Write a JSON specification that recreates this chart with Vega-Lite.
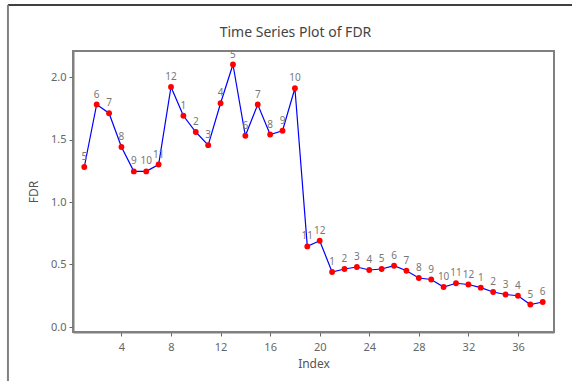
{
  "$schema": "https://vega.github.io/schema/vega-lite/v6.json",
  "width": 481,
  "height": 281,
  "autosize": {"type": "none"},
  "padding": {"left": 73, "top": 51, "right": 18, "bottom": 49},
  "background": "white",
  "title": {
    "text": "Time Series Plot of FDR",
    "fontSize": 14,
    "font": "Noto Sans",
    "fontWeight": "normal",
    "color": "#444444",
    "anchor": "middle",
    "offset": -35.75,
    "dx": -18
  },
  "config": {
    "view": {"stroke": "#808080", "strokeWidth": 2},
    "font": "Noto Sans",
    "axis": {
      "labelColor": "#666666",
      "titleColor": "#555555",
      "labelFontSize": 11,
      "titleFontSize": 12,
      "titleFontWeight": "normal",
      "domainColor": "#808080",
      "domainWidth": 2,
      "tickColor": "#666666",
      "tickSize": 4,
      "grid": false
    }
  },
  "layer": [
    {
      "data": {
        "values": [
          {"i": 1, "fdr": 1.28, "m": 5},
          {"i": 2, "fdr": 1.78, "m": 6},
          {"i": 3, "fdr": 1.71, "m": 7},
          {"i": 4, "fdr": 1.44, "m": 8},
          {"i": 5, "fdr": 1.245, "m": 9},
          {"i": 6, "fdr": 1.245, "m": 10},
          {"i": 7, "fdr": 1.30, "m": 11},
          {"i": 8, "fdr": 1.92, "m": 12},
          {"i": 9, "fdr": 1.69, "m": 1},
          {"i": 10, "fdr": 1.56, "m": 2},
          {"i": 11, "fdr": 1.455, "m": 3},
          {"i": 12, "fdr": 1.79, "m": 4},
          {"i": 13, "fdr": 2.10, "m": 5},
          {"i": 14, "fdr": 1.53, "m": 6},
          {"i": 15, "fdr": 1.78, "m": 7},
          {"i": 16, "fdr": 1.54, "m": 8},
          {"i": 17, "fdr": 1.57, "m": 9},
          {"i": 18, "fdr": 1.91, "m": 10},
          {"i": 19, "fdr": 0.645, "m": 11},
          {"i": 20, "fdr": 0.69, "m": 12},
          {"i": 21, "fdr": 0.44, "m": 1},
          {"i": 22, "fdr": 0.464, "m": 2},
          {"i": 23, "fdr": 0.48, "m": 3},
          {"i": 24, "fdr": 0.456, "m": 4},
          {"i": 25, "fdr": 0.464, "m": 5},
          {"i": 26, "fdr": 0.49, "m": 6},
          {"i": 27, "fdr": 0.45, "m": 7},
          {"i": 28, "fdr": 0.392, "m": 8},
          {"i": 29, "fdr": 0.38, "m": 9},
          {"i": 30, "fdr": 0.32, "m": 10},
          {"i": 31, "fdr": 0.35, "m": 11},
          {"i": 32, "fdr": 0.34, "m": 12},
          {"i": 33, "fdr": 0.315, "m": 1},
          {"i": 34, "fdr": 0.28, "m": 2},
          {"i": 35, "fdr": 0.26, "m": 3},
          {"i": 36, "fdr": 0.25, "m": 4},
          {"i": 37, "fdr": 0.18, "m": 5},
          {"i": 38, "fdr": 0.20, "m": 6}
        ]
      },
      "encoding": {
        "x": {
          "field": "i",
          "type": "quantitative",
          "scale": {"domain": [0.09, 38.91], "nice": false, "zero": false},
          "axis": {
            "title": "Index",
            "values": [4, 8, 12, 16, 20, 24, 28, 32, 36],
            "labelPadding": 5,
            "titlePadding": 6
          }
        },
        "y": {
          "field": "fdr",
          "type": "quantitative",
          "scale": {"domain": [-0.04, 2.208], "nice": false, "zero": false},
          "axis": {
            "title": "FDR",
            "values": [0, 0.5, 1, 1.5, 2],
            "format": ".1f",
            "labelPadding": 3,
            "titlePadding": 10
          }
        }
      },
      "layer": [
        {
          "mark": {"type": "line", "color": "#0000FF", "strokeWidth": 1.2}
        },
        {
          "mark": {"type": "point", "filled": true, "color": "#FF0000", "size": 34, "opacity": 1}
        },
        {
          "mark": {"type": "text", "dy": -10, "fontSize": 10, "color": "#777777", "font": "Noto Sans"},
          "encoding": {"text": {"field": "m", "type": "quantitative"}}
        }
      ]
    },
    {
      "data": {"values": [{"frame": "outer"}]},
      "mark": {"type": "rule", "color": "#000000", "strokeWidth": 1.5, "clip": false},
      "encoding": {
        "x": {"datum": -5.16, "type": "quantitative", "scale": {"domain": [0.09, 38.91], "nice": false, "zero": false}},
        "x2": {"datum": 60},
        "y": {"datum": 2.576, "type": "quantitative", "scale": {"domain": [-0.04, 2.208], "nice": false, "zero": false}}
      }
    },
    {
      "data": {"values": [{"frame": "outer"}]},
      "mark": {"type": "rule", "color": "#808080", "strokeWidth": 2, "clip": false},
      "encoding": {
        "x": {"datum": -5.16, "type": "quantitative"},
        "y": {"datum": 2.576, "type": "quantitative"},
        "y2": {"datum": -2}
      }
    }
  ]
}
